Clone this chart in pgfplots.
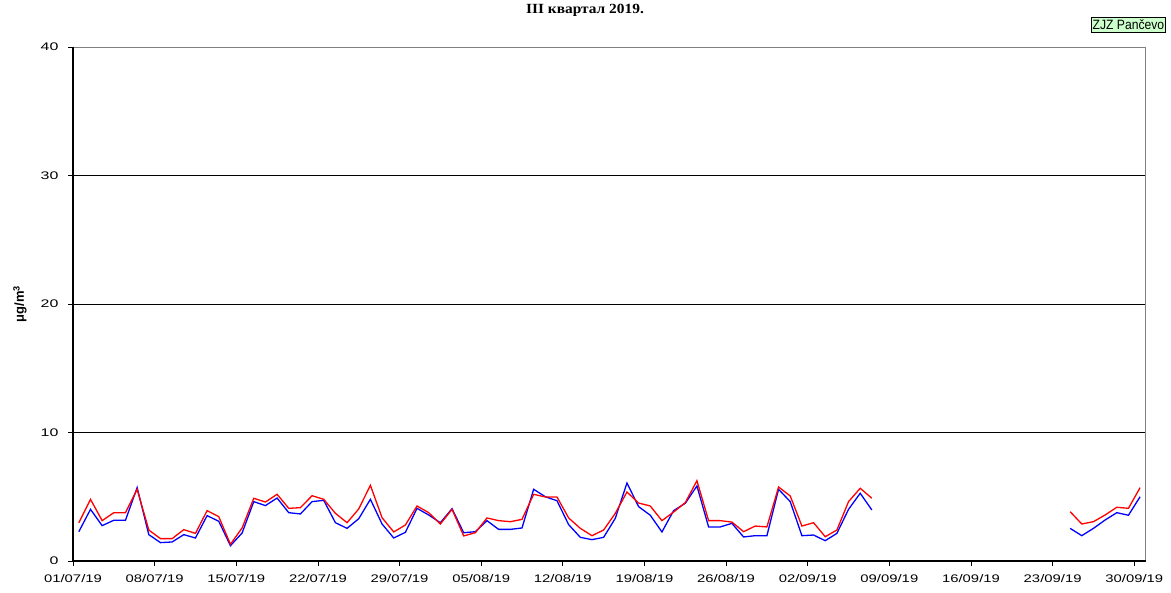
\documentclass[border=0pt]{standalone}
\usepackage{fontspec}
\setmainfont{Liberation Sans}
\newfontfamily\titlefont{Liberation Serif}[FakeStretch=1.1]
\newfontfamily\ytickfont{Liberation Sans}[FakeStretch=1.45]
\newfontfamily\xtickfont{Liberation Sans}[FakeStretch=1.35]
\newfontfamily\legfont{Liberation Sans}[FakeStretch=0.9]
\usepackage{pgfplots}
\usepackage{pgfplotstable}
\pgfplotsset{compat=1.18}
\pgfplotstableread{
x     blue  red
0.5   2.28  2.98
1.5   4.02  4.80
2.5   2.75  3.14
3.5   3.17  3.76
4.5   3.17  3.76
5.5   5.71  5.58
6.5   2.05  2.41
7.5   1.43  1.74
8.5   1.48  1.74
9.5   2.05  2.44
10.5  1.79  2.15
11.5  3.53  3.92
12.5  3.09  3.45
13.5  1.19  1.30
14.5  2.18  2.57
15.5  4.62  4.88
16.5  4.31  4.59
17.5  4.90  5.19
18.5  3.76  4.10
19.5  3.66  4.15
20.5  4.62  5.08
21.5  4.72  4.80
22.5  2.98  3.71
23.5  2.54  2.98
24.5  3.29  4.05
25.5  4.80  5.89
26.5  2.88  3.37
27.5  1.79  2.26
28.5  2.23  2.80
29.5  4.10  4.28
30.5  3.58  3.76
31.5  2.98  2.88
32.5  4.07  4.02
33.5  2.20  1.95
34.5  2.28  2.20
35.5  3.14  3.35
36.5  2.46  3.14
37.5  2.46  3.06
38.5  2.57  3.24
39.5  5.58  5.19
40.5  5.00  4.98
41.5  4.69  4.98
42.5  2.83  3.35
43.5  1.84  2.54
44.5  1.66  1.97
45.5  1.84  2.41
46.5  3.32  3.71
47.5  6.07  5.37
48.5  4.23  4.51
49.5  3.56  4.28
50.5  2.26  3.14
51.5  3.92  3.81
52.5  4.49  4.54
53.5  5.84  6.25
54.5  2.65  3.14
55.5  2.65  3.14
56.5  2.93  3.03
57.5  1.87  2.28
58.5  1.97  2.72
59.5  1.97  2.65
60.5  5.58  5.76
61.5  4.62  5.06
62.5  1.97  2.72
63.5  2.02  2.98
64.5  1.58  1.89
65.5  2.15  2.41
66.5  4.02  4.62
67.5  5.27  5.66
68.5  3.97  4.88
69.5  nan   nan
70.5  nan   nan
71.5  nan   nan
72.5  nan   nan
73.5  nan   nan
74.5  nan   nan
75.5  nan   nan
76.5  nan   nan
77.5  nan   nan
78.5  nan   nan
79.5  nan   nan
80.5  nan   nan
81.5  nan   nan
82.5  nan   nan
83.5  nan   nan
84.5  nan   nan
85.5  2.54  3.84
86.5  1.97  2.88
87.5  2.54  3.06
88.5  3.19  3.58
89.5  3.76  4.18
90.5  3.56  4.10
91.5  5.00  5.71
}\datatable
\begin{document}
\begin{tikzpicture}
\useasboundingbox (0,0) rectangle (1171pt,593pt);
\begin{axis}[
  at={(73pt,32pt)}, anchor=south west,
  scale only axis, width=1073pt, height=514pt,
  xmin=0, xmax=92, ymin=0, ymax=40,
  axis line style={draw=none},
  tick pos=left, tick align=outside, major tick length=5pt,
  tick style={black, line width=0.8pt},
  ytick={0,10,20,30,40},
  ymajorgrids, grid style={black, line width=0.9pt},
  xtick={0,7,14,21,28,35,42,49,56,63,70,77,84,91},
  xticklabels={01/07/19,08/07/19,15/07/19,22/07/19,29/07/19,05/08/19,12/08/19,19/08/19,26/08/19,02/09/19,09/09/19,16/09/19,23/09/19,30/09/19},
  x tick label style={font=\xtickfont\fontsize{11}{12}\selectfont, yshift=-5pt},
  y tick label style={font=\ytickfont\fontsize{11}{13}\selectfont, xshift=-6pt},
  /pgf/number format/assume math mode=true,
  unbounded coords=jump,
  ylabel={\textbf{μg/m\textsuperscript{3}}},
  every axis y label/.style={at={(rel axis cs:0,0.5)}, xshift=-53pt, rotate=90, anchor=center, font=\fontsize{13}{15}\selectfont},
  clip=false,
]
\draw[gray, line width=0.9pt] (rel axis cs:0,1) -- (rel axis cs:1,1) -- (rel axis cs:1,0);
\addplot[blue, line width=1.3pt, mark=none] table[x=x, y=blue] {\datatable};
\addplot[red, line width=1.3pt, mark=none] table[x=x, y=red] {\datatable};
\draw[black, line width=1.8pt] (rel axis cs:0,1) -- (rel axis cs:0,0) -- (rel axis cs:1,0);
\end{axis}
\node[font=\titlefont\bfseries\fontsize{14}{16}\selectfont] at (585pt,582.5pt) {III квартал 2019.};
\node[draw=black, fill={rgb,255:red,204;green,255;blue,204}, line width=0.6pt, inner xsep=1.5pt, inner ysep=2.5pt, font=\legfont\fontsize{13.5}{15}\selectfont, anchor=north east] at (1166pt,576pt) {ZJZ Pančevo};
\end{tikzpicture}
\end{document}
